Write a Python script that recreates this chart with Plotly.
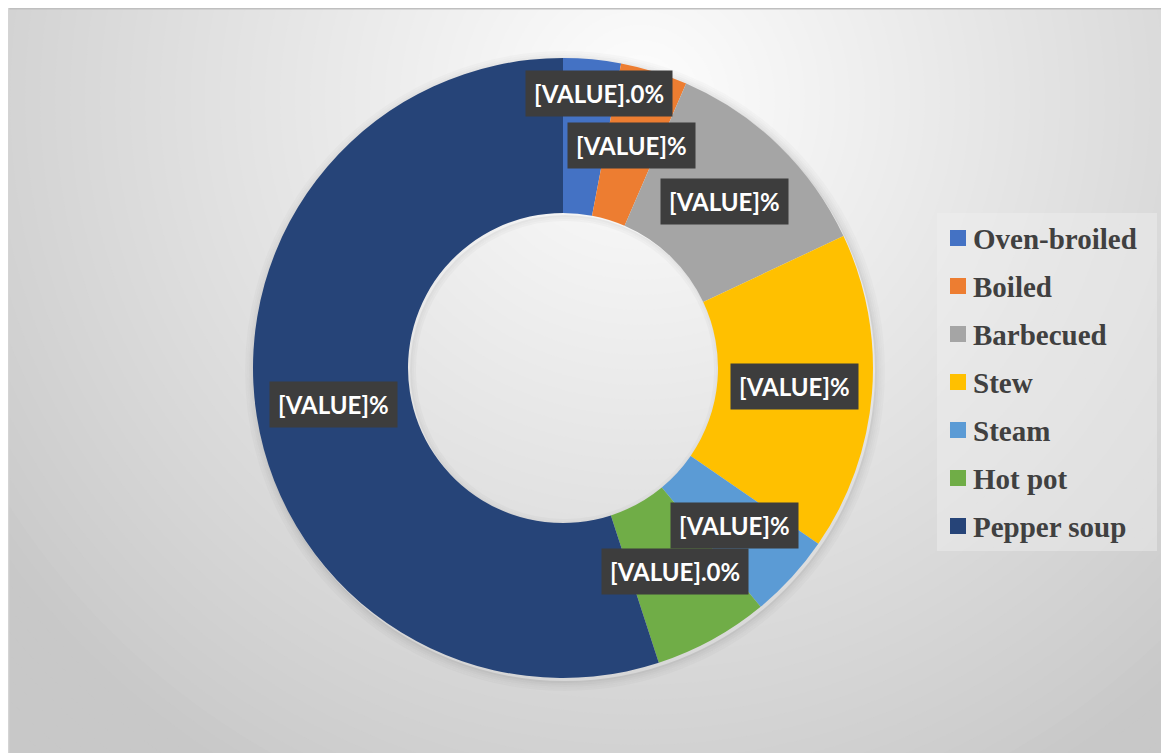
import math
import plotly.graph_objects as go

# ---- data ----
categories = ["Oven-broiled", "Boiled", "Barbecued", "Stew", "Steam", "Hot pot", "Pepper soup"]
values = [3.0, 3.5, 11.5, 16.6, 4.4, 6.0, 55.0]
label_texts = ["[VALUE].0%", "[VALUE]%", "[VALUE]%", "[VALUE]%", "[VALUE]%", "[VALUE].0%", "[VALUE]%"]
colors = ["#4472C4", "#ED7D31", "#A5A5A5", "#FFC000", "#5B9BD5", "#70AD47", "#264478"]

# label placement style (radial factor of outer radius; first label pushed out to avoid overlap)
label_radial = [0.89, 0.75, 0.75, 0.75, 0.75, 0.75, 0.75]
label_dx = [10, 0, 0, 0, 0, 0, 0]

OFF = 8  # page body margin
W, H = 1169 - OFF, 753 - OFF
CX, CY, R = 563, 368, 310
HOLE = 0.5


def px(x):
    return (x - OFF) / W


def py(y):
    return 1 - (y - OFF) / H


shapes = []
# chart area base
shapes.append(dict(type="rect", xref="paper", yref="paper", x0=0, x1=1, y0=0, y1=1,
                   fillcolor="rgb(200,200,200)", line=dict(width=0), layer="below"))
# radial gradient approximation
gx, gy = 640, 100
for r in range(900, 0, -15):
    c = int(max(200, min(254, 255 - 0.068 * r)))
    shapes.append(dict(type="circle", xref="paper", yref="paper",
                       x0=px(gx - r), x1=px(gx + r), y0=py(gy + r), y1=py(gy - r),
                       fillcolor=f"rgb({c},{c},{c})", line=dict(width=0), layer="below"))
# border
shapes.append(dict(type="line", xref="paper", yref="paper", x0=0, x1=1, y0=py(8.5), y1=py(8.5),
                   line=dict(width=2, color="#bfbfbf"), layer="below"))
shapes.append(dict(type="line", xref="paper", yref="paper", x0=px(8.5), x1=px(8.5), y0=py(8), y1=0,
                   line=dict(width=1.5, color="#d4d4d4"), layer="below"))
# donut soft shadow
for k, a in [(2, 0.10), (4, 0.07), (6, 0.05), (8, 0.03), (10, 0.02)]:
    rr = R + k - 1
    shapes.append(dict(type="circle", xref="paper", yref="paper",
                       x0=px(CX + 2 - rr), x1=px(CX + 2 + rr), y0=py(CY + 3 + rr), y1=py(CY + 3 - rr),
                       fillcolor="rgba(0,0,0,0)", line=dict(width=2, color=f"rgba(0,0,0,{a})"), layer="below"))
# inner hole shadow
ri = R * HOLE
for k, a in [(1, 0.06), (3, 0.04), (5, 0.025)]:
    rr = ri - k
    shapes.append(dict(type="circle", xref="paper", yref="paper",
                       x0=px(CX + 2 - rr), x1=px(CX + 2 + rr), y0=py(CY + 2 + rr), y1=py(CY + 2 - rr),
                       fillcolor="rgba(0,0,0,0)", line=dict(width=2, color=f"rgba(0,0,0,{a})"), layer="below"))

# legend box
LX0, LX1, LY0, LY1 = 937, 1157, 213, 551
shapes.append(dict(type="rect", xref="paper", yref="paper", x0=px(LX0), x1=px(LX1), y0=py(LY1), y1=py(LY0),
                   fillcolor="rgba(240,240,240,0.45)", line=dict(width=0), layer="below"))

annotations = []
# legend items
for i, (cat, col) in enumerate(zip(categories, colors)):
    yc = 238 + 48 * i
    shapes.append(dict(type="rect", xref="paper", yref="paper", x0=px(950), x1=px(966),
                       y0=py(yc + 8), y1=py(yc - 8), fillcolor=col, line=dict(width=0)))
    annotations.append(dict(xref="paper", yref="paper", x=px(971), y=py(yc + 1), xanchor="left", yanchor="middle",
                            text=f"<b>{cat}</b>", showarrow=False,
                            font=dict(family="Liberation Serif", size=29, color="#404040")))

# data labels computed from values
total = sum(values)
cum = 0.0
for v, t, rf, dx in zip(values, label_texts, label_radial, label_dx):
    mid = (cum + v / 2) / total
    cum += v
    th = 2 * math.pi * mid
    RL = R * rf
    lx = CX + RL * math.sin(th) + dx
    ly = CY - RL * math.cos(th)
    annotations.append(dict(xref="paper", yref="paper", x=px(lx), y=py(ly), xanchor="center", yanchor="middle",
                            text=f"<b>{t}</b>", showarrow=False, bgcolor="#3d3d3d", borderpad=8,
                            font=dict(family="Lato", size=24, color="white")))

fig = go.Figure(go.Pie(
    labels=categories, values=values, hole=HOLE, sort=False, direction="clockwise", rotation=0,
    marker=dict(colors=colors, line=dict(width=0)), textinfo="none", showlegend=False,
    domain=dict(x=[px(CX - R), px(CX + R)], y=[py(CY + R), py(CY - R)]),
))
fig.update_layout(width=W, height=H, margin=dict(l=0, r=0, t=0, b=0), paper_bgcolor="white",
                  plot_bgcolor="rgba(0,0,0,0)", shapes=shapes, annotations=annotations, showlegend=False)
fig.write_html("out.html")
